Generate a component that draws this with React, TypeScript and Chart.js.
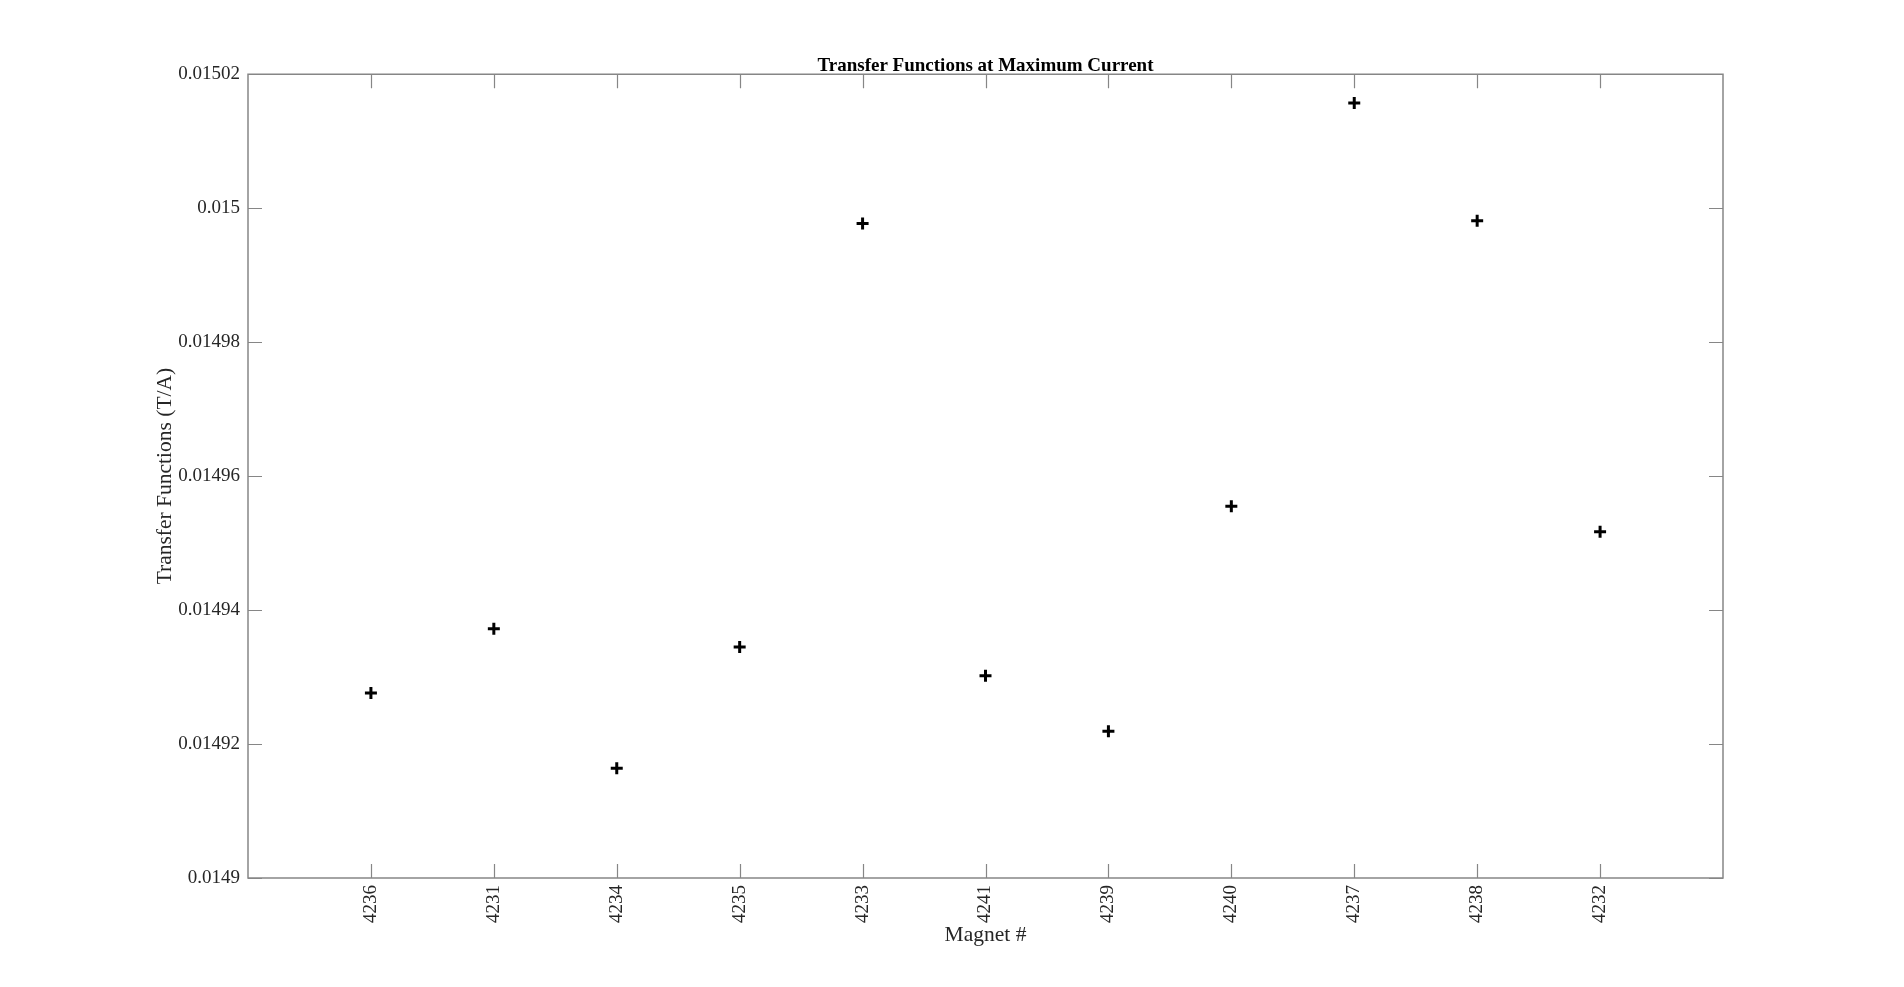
import React, { useEffect, useRef } from "react";
import { Chart, registerables } from "chart.js";

Chart.register(...registerables);

const magnets: string[] = ["4236", "4231", "4234", "4235", "4233", "4241", "4239", "4240", "4237", "4238", "4232"];
const transferValues: number[] = [
  0.0149276, 0.0149372, 0.0149164, 0.0149345, 0.0149977, 0.0149302,
  0.0149219, 0.0149555, 0.0150157, 0.0149981, 0.0149517,
];
const yTickValues: number[] = [0.0149, 0.01492, 0.01494, 0.01496, 0.01498, 0.015, 0.01502];
const yTickLabels: string[] = ["0.0149", "0.01492", "0.01494", "0.01496", "0.01498", "0.015", "0.01502"];

const FONT = "'Liberation Serif', 'Times New Roman', serif";
const AXIS_GRAY = "#868686";
const TEXT = "#262626";

const boxPlugin = {
  id: "matlabBox",
  beforeDatasetsDraw(chart: any) {
    const { ctx, chartArea } = chart;
    const { left, right, top, bottom } = chartArea;
    const xs = chart.scales.x;
    const ys = chart.scales.y;
    const tl = 14;
    ctx.save();
    ctx.strokeStyle = AXIS_GRAY;
    ctx.lineWidth = 1.5;
    ctx.beginPath();
    ctx.rect(left, top, right - left, bottom - top);
    ctx.stroke();
    ctx.lineWidth = 1.2;
    ctx.beginPath();
    xs.ticks.forEach((t: any) => {
      const px = Math.round(xs.getPixelForValue(t.value)) + 0.5;
      ctx.moveTo(px, bottom);
      ctx.lineTo(px, bottom - tl);
      ctx.moveTo(px, top);
      ctx.lineTo(px, top + tl);
    });
    ys.ticks.forEach((t: any) => {
      const py = Math.round(ys.getPixelForValue(t.value)) + 0.5;
      ctx.moveTo(left, py);
      ctx.lineTo(left + tl, py);
      ctx.moveTo(right, py);
      ctx.lineTo(right - tl, py);
    });
    ctx.stroke();
    ctx.restore();
  },
};

export default function App() {
  const canvasRef = useRef<HTMLCanvasElement | null>(null);

  useEffect(() => {
    if (!canvasRef.current) return;
    const chart = new Chart(canvasRef.current, {
      type: "scatter",
      data: {
        datasets: [
          {
            data: transferValues.map((v, i) => ({ x: i + 1, y: v })),
            pointStyle: "cross",
            pointRadius: 6,
            pointBorderWidth: 3,
            borderColor: "#000000",
            backgroundColor: "#000000",
            pointHoverRadius: 6,
          },
        ],
      },
      options: {
        animation: false,
        responsive: true,
        maintainAspectRatio: false,
        layout: { padding: { top: 58, left: 152, right: 181, bottom: 39 } },
        plugins: {
          legend: { display: false },
          tooltip: { enabled: false },
          title: {
            display: true,
            fullSize: false,
            text: "Transfer Functions at Maximum Current",
            color: "#000000",
            font: { family: FONT, size: 19, weight: "bold", lineHeight: 0.85 },
            padding: { top: 0, bottom: 0 },
          },
        },
        scales: {
          x: {
            type: "linear",
            min: 0,
            max: magnets.length + 1,
            grid: { display: false, drawTicks: false },
            border: { display: false },
            afterBuildTicks: (scale: any) => {
              scale.ticks = magnets.map((_, i) => ({ value: i + 1 }));
            },
            afterFit: (scale: any) => {
              scale.height = 70;
            },
            ticks: {
              autoSkip: false,
              minRotation: 90,
              maxRotation: 90,
              padding: 7,
              color: TEXT,
              font: { family: FONT, size: 19 },
              callback: (value: any) => magnets[Math.round(Number(value)) - 1] ?? "",
            },
            title: {
              display: true,
              text: "Magnet #",
              color: TEXT,
              font: { family: FONT, size: 21.5 },
              padding: 0,
            },
          },
          y: {
            type: "linear",
            min: yTickValues[0],
            max: yTickValues[yTickValues.length - 1],
            grid: { display: false, drawTicks: false },
            border: { display: false },
            afterBuildTicks: (scale: any) => {
              scale.ticks = yTickValues.map((v) => ({ value: v }));
            },
            afterFit: (scale: any) => {
              scale.width = 96;
            },
            ticks: {
              padding: 8,
              color: TEXT,
              font: { family: FONT, size: 19 },
              callback: (value: any) => {
                const idx = yTickValues.findIndex((v) => Math.abs(v - Number(value)) < 1e-9);
                return idx >= 0 ? yTickLabels[idx] : "";
              },
            },
            title: {
              display: true,
              text: "Transfer Functions (T/A)",
              color: TEXT,
              font: { family: FONT, size: 21.5 },
              padding: 0,
            },
          },
        },
      },
      plugins: [boxPlugin],
    } as any);
    return () => chart.destroy();
  }, []);

  return (
    <div style={{ position: "fixed", left: 0, top: 0, width: 1904, height: 987, background: "#ffffff" }}>
      <canvas ref={canvasRef} />
    </div>
  );
}
